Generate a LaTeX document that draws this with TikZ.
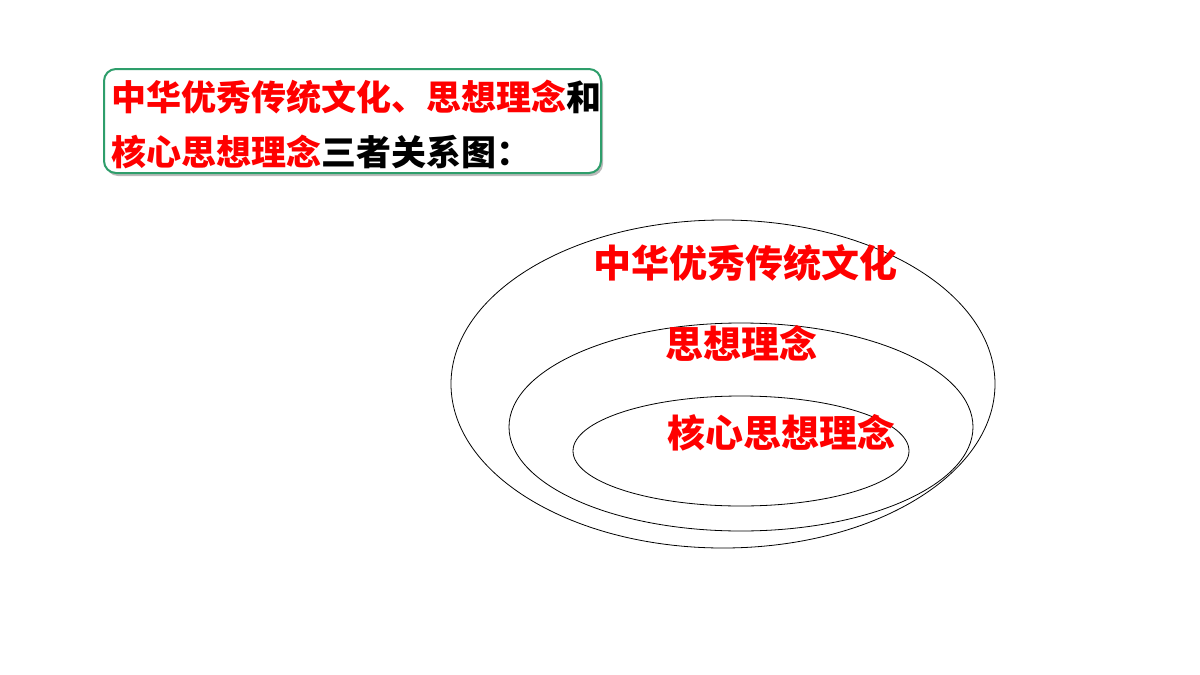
\documentclass[tikz,border=0pt]{standalone}
\usepackage{fontspec}
\newfontfamily\cjk{Noto Sans CJK SC}
\usetikzlibrary{shadows}
\definecolor{boxgreen}{HTML}{2E9E6B}
\definecolor{cred}{HTML}{FF0000}
\tikzset{
  ring/.style={draw=black, line width=0.8pt},
  bigtext/.style={font=\cjk\bfseries\fontsize{38}{42}\selectfont, text=cred, inner sep=0pt},
  titletext/.style={font=\cjk\bfseries\fontsize{35}{40}\selectfont, inner sep=0pt, anchor=west},
}
\begin{document}
\begin{tikzpicture}[x=1pt,y=-1pt]
\useasboundingbox (0,0) rectangle (1200,675);
% title box
\node[draw=boxgreen, line width=2pt, rounded corners=12pt, fill=white,
  drop shadow={shadow xshift=2pt, shadow yshift=-3pt, opacity=0.45, fill=black!60},
  minimum width=497pt, minimum height=104pt, anchor=north west] (tbox) at (103,68) {};
\node[titletext] (t1) at (111,97) {\textcolor{cred}{中华优秀传统文化、思想理念}和};
\node[titletext] (t2) at (111,152) {\textcolor{cred}{核心思想理念}三者关系图：};
% ellipses
\draw[ring] (723,384) ellipse [x radius=272, y radius=164];
\draw[ring] (741,427) ellipse [x radius=232, y radius=104];
\draw[ring] (741,451) ellipse [x radius=168, y radius=55];
% labels
\node[bigtext] (l1) at (745,263) {中华优秀传统文化};
\node[bigtext] (l2) at (741,343) {思想理念};
\node[bigtext] (l3) at (781,433) {核心思想理念};
\end{tikzpicture}
\end{document}
